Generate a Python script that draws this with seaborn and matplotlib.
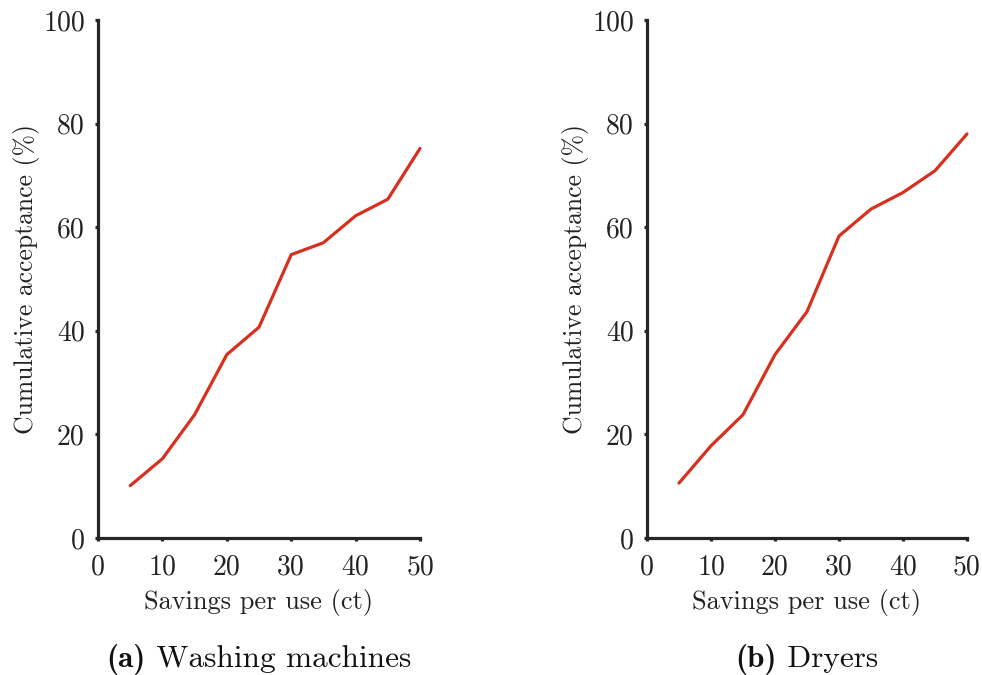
import matplotlib
matplotlib.use("Agg")
import matplotlib.pyplot as plt
import seaborn as sns
import pandas as pd

savings = [5, 10, 15, 20, 25, 30, 35, 40, 45, 50]
washing = [10.1, 15.3, 23.8, 35.4, 40.7, 54.7, 57.0, 62.2, 65.4, 75.2]
dryers = [10.6, 17.8, 23.8, 35.4, 43.7, 58.3, 63.5, 66.7, 70.9, 78.0]
x_ticks = [0, 10, 20, 30, 40, 50]
y_ticks = [0, 20, 40, 60, 80, 100]
xlabel = "Savings per use (ct)"
ylabel = "Cumulative acceptance (%)"
panels = [("(a)", "Washing machines"), ("(b)", "Dryers")]

sns.set_style("ticks")
plt.rcParams["font.family"] = ["cmr10", "DejaVu Serif"]
plt.rcParams["axes.formatter.use_mathtext"] = True
plt.rcParams["mathtext.fontset"] = "cm"

W, H = 982, 675
fig = plt.figure(figsize=(W / 100, H / 100), dpi=100)

line_color = "#d8301f"
spine_color = "#262626"
text_color = "#222222"

axes_px = [(98, 20, 420, 538), (647, 20, 967, 538)]
series = [washing, dryers]

for (x0, y0, x1, y1), vals, (tag, name) in zip(axes_px, series, panels):
    ax = fig.add_axes([x0 / W, 1 - y1 / H, (x1 - x0) / W, (y1 - y0) / H])
    df = pd.DataFrame({"x": savings, "y": vals})
    sns.lineplot(data=df, x="x", y="y", ax=ax, color=line_color, lw=2.3)
    ax.set_xlim(0, 50)
    ax.set_ylim(0, 100)
    ax.set_xticks(x_ticks)
    ax.set_yticks(y_ticks)
    ax.set_xticklabels([str(v) for v in x_ticks])
    ax.set_yticklabels([str(v) for v in y_ticks])
    for l in ax.lines:
        l.set_clip_on(False)
    sns.despine(ax=ax)
    for s in ["left", "bottom"]:
        ax.spines[s].set_linewidth(2.3)
        ax.spines[s].set_color(spine_color)
    ax.tick_params(axis="both", direction="out", length=2.5, width=2.3,
                   color=spine_color, labelsize=20, labelcolor=text_color)
    ax.tick_params(axis="x", pad=9)
    ax.tick_params(axis="y", pad=7)
    ax.set_xlabel(xlabel, fontsize=19, color=text_color, labelpad=6)
    ax.set_ylabel(ylabel, fontsize=18.5, color=text_color, labelpad=2)
    cx = (x0 + x1) / 2
    t1 = fig.text(0, 0, tag, fontsize=22.5, family=["cmb10", "DejaVu Serif"], color="#111111")
    t2 = fig.text(0, 0, " " + name, fontsize=22.5, color="#111111")
    fig.canvas.draw()
    r = fig.canvas.get_renderer()
    w1 = t1.get_window_extent(r).width
    w2 = t2.get_window_extent(r).width
    start = cx - (w1 + w2) / 2
    ypos = 1 - 667 / H
    t1.set_position((start / W, ypos))
    t2.set_position(((start + w1) / W, ypos))

fig.savefig("out.png", dpi=100)
